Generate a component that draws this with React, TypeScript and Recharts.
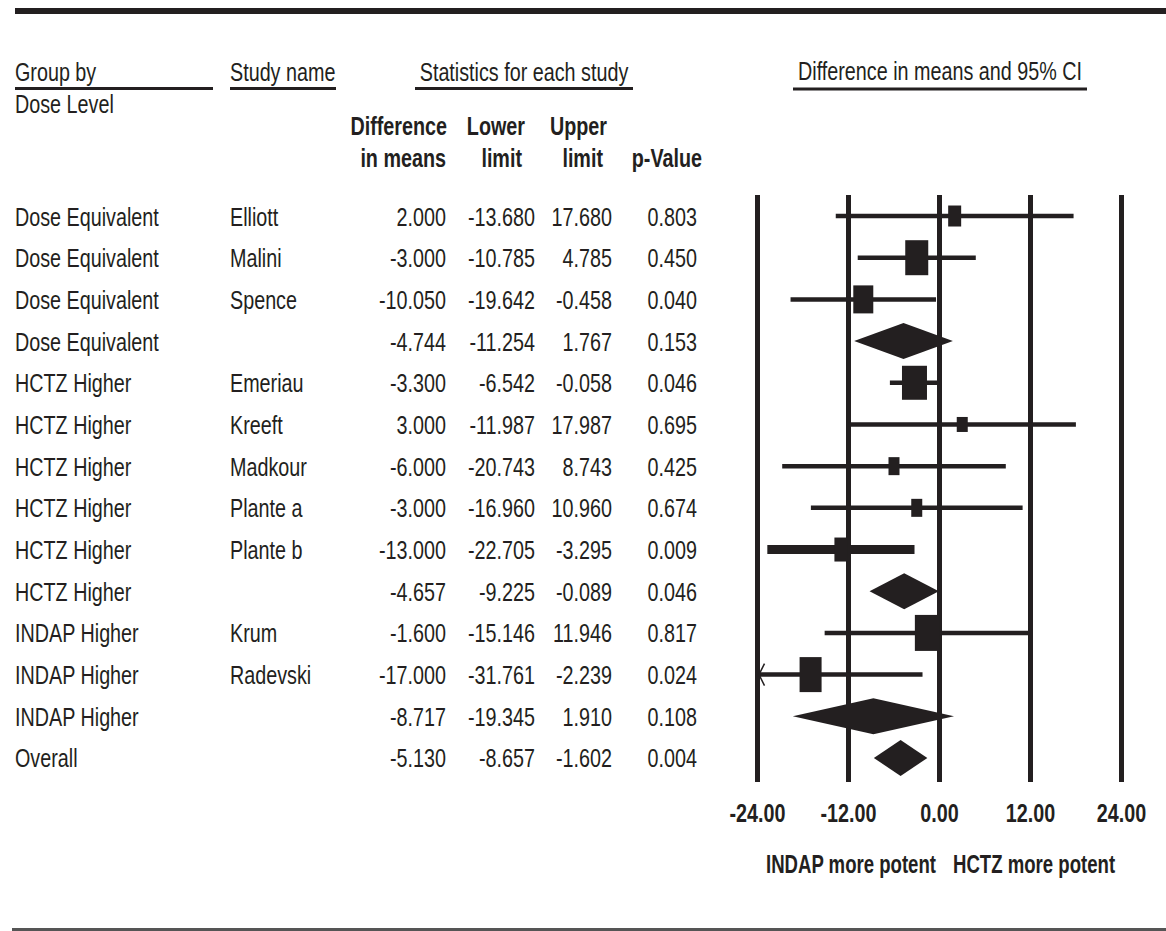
import React from "react";
import {
  ComposedChart,
  XAxis,
  YAxis,
  Scatter,
  ReferenceLine,
  ReferenceArea,
  ReferenceDot,
} from "recharts";

// ---------------- data ----------------
const groups = [
  "Dose Equivalent",
  "Dose Equivalent",
  "Dose Equivalent",
  "Dose Equivalent",
  "HCTZ Higher",
  "HCTZ Higher",
  "HCTZ Higher",
  "HCTZ Higher",
  "HCTZ Higher",
  "HCTZ Higher",
  "INDAP Higher",
  "INDAP Higher",
  "INDAP Higher",
  "Overall",
];
const studies = [
  "Elliott",
  "Malini",
  "Spence",
  "",
  "Emeriau",
  "Kreeft",
  "Madkour",
  "Plante a",
  "Plante b",
  "",
  "Krum",
  "Radevski",
  "",
  "",
];
const diffs = [2.0, -3.0, -10.05, -4.744, -3.3, 3.0, -6.0, -3.0, -13.0, -4.657, -1.6, -17.0, -8.717, -5.13];
const lowers = [-13.68, -10.785, -19.642, -11.254, -6.542, -11.987, -20.743, -16.96, -22.705, -9.225, -15.146, -31.761, -19.345, -8.657];
const uppers = [17.68, 4.785, -0.458, 1.767, -0.058, 17.987, 8.743, 10.96, -3.295, -0.089, 11.946, -2.239, 1.91, -1.602];
const pValues = [0.803, 0.45, 0.04, 0.153, 0.046, 0.695, 0.425, 0.674, 0.009, 0.046, 0.817, 0.024, 0.108, 0.004];
const xTicks = [-24, -12, 0, 12, 24];

// ---------------- styles ----------------
const INK = "#231f20";
const FONT = "'Liberation Sans', Arial, Helvetica, sans-serif";
const FS = 26;
const SX = 0.76;
const X_DOMAIN: [number, number] = [-24, 24];
const Y_DOMAIN: [number, number] = [-0.504, 13.576];

const MARKER_SIZE: Record<string, [number, number]> = {
  Elliott: [13, 21],
  Malini: [23, 35],
  Spence: [20, 28],
  Emeriau: [25, 34],
  Kreeft: [11, 15],
  Madkour: [11, 18],
  "Plante a": [11, 18],
  "Plante b": [13, 24],
  Krum: [25, 36],
  Radevski: [22, 35],
};
const CI_STROKE: Record<string, number> = { "Plante b": 9 };
const DIAMOND_HALF = 18;

const rows = groups.map((g, i) => ({
  row: i,
  group: g,
  study: studies[i],
  diff: diffs[i],
  lower: lowers[i],
  upper: uppers[i],
  p: pValues[i],
  summary: studies[i] === "",
}));
const studyRows = rows.filter((r) => !r.summary);
const summaryRows = rows.filter((r) => r.summary);

// ---------------- helpers ----------------
const T = ({
  x,
  y,
  children,
  anchor = "start",
  bold = false,
  sx = SX,
}: {
  x: number;
  y: number;
  children: React.ReactNode;
  anchor?: "start" | "middle" | "end";
  bold?: boolean;
  sx?: number;
}) => (
  <text
    transform={`translate(${x},${y}) scale(${sx},1)`}
    textAnchor={anchor}
    fontFamily={FONT}
    fontSize={FS}
    fontWeight={bold ? 700 : 400}
    fill={INK}
  >
    {children}
  </text>
);

const COL = { group: 15, study: 230, diff: 446, lower: 535, upper: 612, p: 697 };

const RowTick = (props: any) => {
  const { y, payload } = props;
  const r = rows[Math.round(payload.value)];
  if (!r) return null;
  const by = y + 9.5;
  return (
    <g>
      <T x={COL.group} y={by}>{r.group}</T>
      {r.study ? <T x={COL.study} y={by}>{r.study}</T> : null}
      <T x={COL.diff} y={by} anchor="end">{r.diff.toFixed(3)}</T>
      <T x={COL.lower} y={by} anchor="end">{r.lower.toFixed(3)}</T>
      <T x={COL.upper} y={by} anchor="end">{r.upper.toFixed(3)}</T>
      <T x={COL.p} y={by} anchor="end">{r.p.toFixed(3)}</T>
    </g>
  );
};

const XTick = (props: any) => {
  const { x, y, payload } = props;
  return (
    <T x={x} y={y + 40} anchor="middle" bold>
      {Number(payload.value).toFixed(2)}
    </T>
  );
};

const SquareShape = (props: any) => {
  const { cx, cy, payload } = props;
  const [w, h] = MARKER_SIZE[payload.study] || [12, 18];
  return <rect x={cx - w / 2} y={cy - h / 2} width={w} height={h} fill={INK} />;
};

const makeDiamond = (mid: number, lo: number, hi: number) => (props: any) => {
  const { x, y, width, height } = props;
  const cy = y + height / 2;
  const mx = x + (width * (mid - lo)) / (hi - lo);
  return (
    <polygon
      points={`${x},${cy} ${mx},${cy - DIAMOND_HALF} ${x + width},${cy} ${mx},${cy + DIAMOND_HALF}`}
      fill={INK}
    />
  );
};

const ArrowShape = (props: any) => {
  const { cx, cy } = props;
  return (
    <polyline
      points={`${cx + 7},${cy - 11} ${cx + 1.5},${cy} ${cx + 7},${cy + 11}`}
      stroke={INK}
      strokeWidth={1.5}
      fill="none"
    />
  );
};

export default function App() {
  return (
    <div
      style={{
        position: "absolute",
        left: 0,
        top: 0,
        width: 1166,
        height: 931,
        background: "#fff",
        overflow: "hidden",
      }}
    >
      <svg
        width={1166}
        height={931}
        style={{ position: "absolute", left: 0, top: 0, pointerEvents: "none" }}
      >
        <rect x={15} y={8} width={1151} height={6} fill={INK} />
        <rect x={12} y={928} width={1154} height={3} fill="#555" />

        <T x={15} y={81}>Group by</T>
        <T x={230} y={81}>Study name</T>
        <T x={524} y={81} anchor="middle">Statistics for each study</T>
        <T x={940} y={80} anchor="middle">Difference in means and 95% CI</T>
        <line x1={15} x2={213} y1={88.5} y2={88.5} stroke={INK} strokeWidth={3} />
        <line x1={230} x2={336} y1={88.5} y2={88.5} stroke={INK} strokeWidth={3} />
        <line x1={415} x2={633} y1={88.5} y2={88.5} stroke={INK} strokeWidth={3} />
        <line x1={793} x2={1087} y1={89} y2={89} stroke={INK} strokeWidth={3} />
        <T x={15} y={113}>Dose Level</T>

        <T x={447} y={135} anchor="end" bold>Difference</T>
        <T x={446} y={167} anchor="end" bold>in means</T>
        <T x={525} y={135} anchor="end" bold>Lower</T>
        <T x={522} y={167} anchor="end" bold>limit</T>
        <T x={607} y={135} anchor="end" bold>Upper</T>
        <T x={603} y={167} anchor="end" bold>limit</T>
        <T x={702} y={167} anchor="end" bold>p-Value</T>

        <T x={936} y={873} anchor="end" bold sx={0.715}>INDAP more potent</T>
        <T x={953} y={873} bold sx={0.715}>HCTZ more potent</T>
      </svg>

      <div style={{ position: "absolute", left: 0, top: 0 }}>
        <ComposedChart
          width={1166}
          height={931}
          margin={{ top: 195, right: 44.5, bottom: 89, left: 0 }}
        >
          <XAxis
            type="number"
            dataKey="diff"
            domain={X_DOMAIN}
            ticks={xTicks}
            interval={0}
            allowDataOverflow
            axisLine={false}
            tickLine={false}
            tickSize={0}
            tickMargin={0}
            height={60}
            tick={<XTick />}
          />
          <YAxis
            type="number"
            dataKey="row"
            domain={Y_DOMAIN}
            reversed
            allowDataOverflow
            ticks={rows.map((r) => r.row)}
            interval={0}
            width={757.5}
            axisLine={false}
            tickLine={false}
            tick={<RowTick />}
          />
          {xTicks.map((t) => (
            <ReferenceLine key={`v${t}`} x={t} stroke={INK} strokeWidth={5} ifOverflow="visible" />
          ))}
          {studyRows.map((r) => (
            <ReferenceLine
              key={`ci${r.row}`}
              segment={[
                { x: Math.max(r.lower, X_DOMAIN[0]), y: r.row },
                { x: Math.min(r.upper, X_DOMAIN[1]), y: r.row },
              ]}
              stroke={INK}
              strokeWidth={CI_STROKE[r.study] ?? 4.5}
              ifOverflow="visible"
            />
          ))}
          {studyRows
            .filter((r) => r.lower < X_DOMAIN[0])
            .map((r) => (
              <ReferenceDot
                key={`ar${r.row}`}
                x={X_DOMAIN[0]}
                y={r.row}
                shape={ArrowShape}
                ifOverflow="visible"
              />
            ))}
          {summaryRows.map((r) => (
            <ReferenceArea
              key={`d${r.row}`}
              x1={r.lower}
              x2={r.upper}
              y1={r.row - 0.5}
              y2={r.row + 0.5}
              shape={makeDiamond(r.diff, r.lower, r.upper)}
              ifOverflow="visible"
            />
          ))}
          <Scatter data={studyRows} shape={SquareShape} isAnimationActive={false} />
        </ComposedChart>
      </div>
    </div>
  );
}
